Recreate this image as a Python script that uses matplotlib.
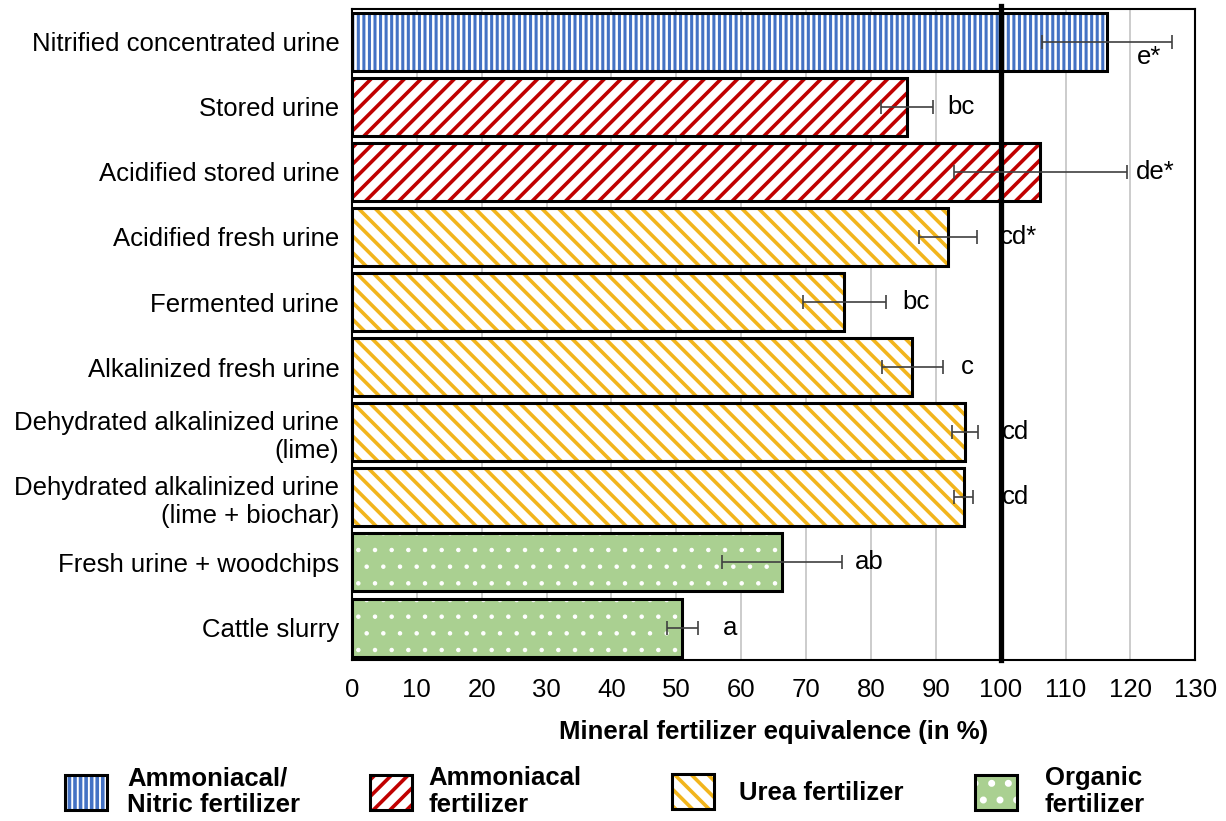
import numpy as np
import matplotlib
matplotlib.use("Agg")
import matplotlib.pyplot as plt
from matplotlib.patches import Patch

plt.rcParams.update({
    "font.family": ["Liberation Sans", "DejaVu Sans"],
    "font.size": 18.5,
    "hatch.linewidth": 2.6,
})

# ── Data ───────────────────────────────────────────────────────
categories = [
    "Nitrified concentrated urine",
    "Stored urine",
    "Acidified stored urine",
    "Acidified fresh urine",
    "Fermented urine",
    "Alkalinized fresh urine",
    "Dehydrated alkalinized urine\n(lime)",
    "Dehydrated alkalinized urine\n(lime + biochar)",
    "Fresh urine + woodchips",
    "Cattle slurry",
]
values = [116.4, 85.6, 106.1, 91.9, 75.9, 86.4, 94.5, 94.3, 66.3, 50.9]
errors = [10.0, 4.0, 13.3, 4.5, 6.4, 4.7, 2.0, 1.5, 9.2, 2.4]
letters = ["e*", "bc", "de*", "cd*", "bc", "c", "cd", "cd", "ab", "a"]
groups = ["nitric", "ammon", "ammon", "urea", "urea",
          "urea", "urea", "urea", "organic", "organic"]

group_order = ["nitric", "ammon", "urea", "organic"]
group_labels = ["Ammoniacal/\nNitric fertilizer", "Ammoniacal\nfertilizer",
                "Urea fertilizer", "Organic\nfertilizer"]

# label placement (x in data units, y shift in bar units)
letter_x = [121.0, 91.7, 120.9, 99.9, 84.8, 93.8, 100.2, 100.2, 77.6, 57.2]
letter_dy = [0.23, 0, 0, 0, 0, 0, 0, 0, 0, 0]

# face, hatch colour, hatch pattern, hatch linewidth
STYLE = {
    "nitric":  ("white",   "#4472C4", "|||", 2.2),
    "ammon":   ("white",   "#C00000", "//", 2.6),
    "urea":    ("white",   "#F2B51C", "\\\\", 2.6),
    "organic": ("#AAD091", "white",   ".", 0.8),
}


def set_hlw(p, lw):
    if hasattr(p, "set_hatch_linewidth"):
        p.set_hatch_linewidth(lw)


fig = plt.figure(figsize=(12.26, 8.21), dpi=100)
ax = fig.add_axes([0.287, 0.196, 0.688, 0.793])

y = np.arange(len(categories))
H = 0.89

for yi, v, g in zip(y, values, groups):
    face, hc, hatch, hlw = STYLE[g]
    bars = ax.barh(yi, v, height=H, color=face, edgecolor=hc, lw=0,
                   hatch=hatch, zorder=2)
    for b in bars:
        set_hlw(b, hlw)
    ax.barh(yi, v, height=H, fill=False, edgecolor="black", lw=2.2,
            zorder=3)

ax.axvline(100, ymin=0, ymax=1.004, color="black", lw=3.8, zorder=4,
           clip_on=False)

ax.errorbar(values, y, xerr=errors, fmt="none", ecolor="#404040",
            elinewidth=1.2, capsize=5, capthick=1.2, zorder=6)

for yi, lx, dy, t in zip(y, letter_x, letter_dy, letters):
    ax.text(lx, yi + dy, t, ha="left", va="center", fontsize=18.5, zorder=7)

ax.set_xlim(0, 130)
ax.set_xticks(np.arange(0, 131, 10))
ax.set_ylim(len(categories) - 0.5, -0.5)
ax.set_yticks(y)
ax.set_yticklabels(categories)
ax.tick_params(axis="x", length=0, pad=13)
ax.tick_params(axis="y", length=0, pad=9)
ax.xaxis.grid(True, color="#BFBFBF", lw=1.1)
ax.set_axisbelow(True)
for s in ax.spines.values():
    s.set_linewidth(1.5)
    s.set_color("black")

ax.set_xlabel("Mineral fertilizer equivalence (in %)", fontweight="bold",
              fontsize=18.5, labelpad=13)

# ── Legend (one per entry to match spacing) ────────────────────
leg_x = [0.053, 0.302, 0.548, 0.795]
leg_pad = [0.78, 0.62, 1.0, 1.09]
for g, lab, lx, pad in zip(group_order, group_labels, leg_x, leg_pad):
    face, hc, hatch, hlw = STYLE[g]
    h1 = Patch(facecolor=face, edgecolor=hc, lw=0, hatch=hatch)
    set_hlw(h1, hlw)
    h2 = Patch(fill=False, edgecolor="black", lw=2.2)
    leg = fig.legend([(h1, h2)], [lab], loc="center left",
                     bbox_to_anchor=(lx, 0.036), frameon=False,
                     prop={"weight": "bold", "size": 18.5},
                     handlelength=1.63, handleheight=1.71,
                     handletextpad=pad, borderpad=0, borderaxespad=0)
    for t in leg.get_texts():
        t.set_linespacing(1.15)

fig.savefig("out.png", dpi=100)
